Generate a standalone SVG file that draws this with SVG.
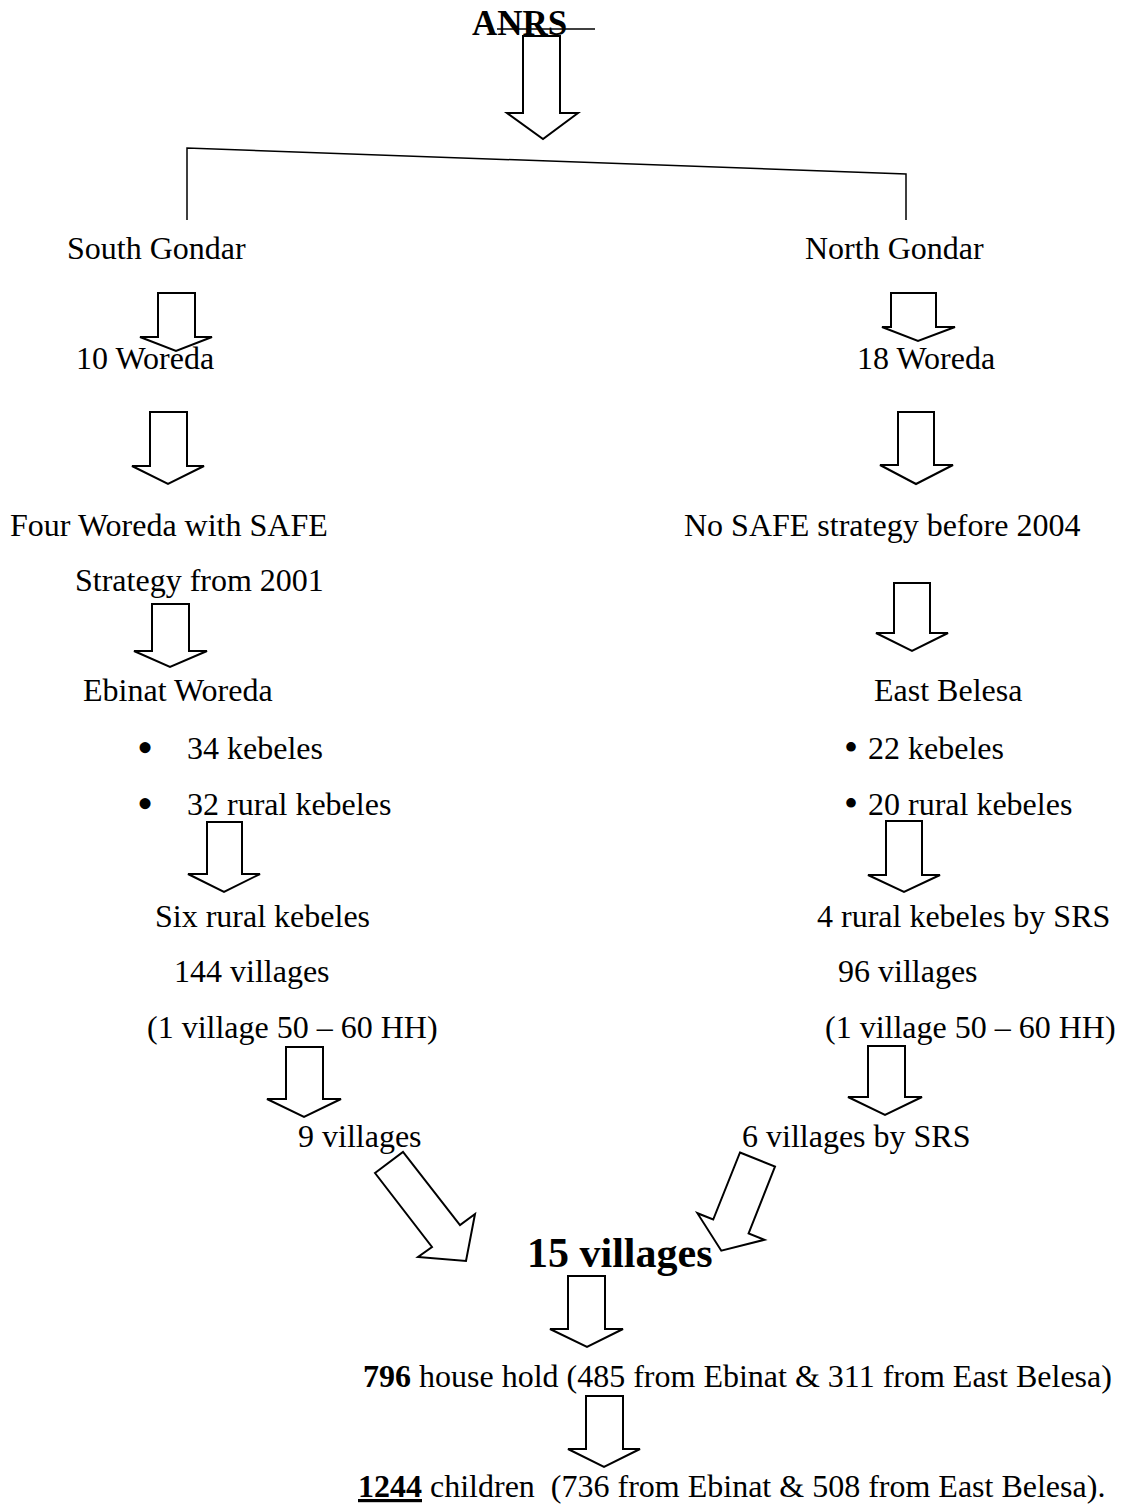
<svg xmlns="http://www.w3.org/2000/svg" width="1123" height="1504" viewBox="0 0 1123 1504">
<style>
text{font-family:"Liberation Serif","Times New Roman",serif;font-size:32px;fill:#000;white-space:pre}
.b{font-weight:bold}
.bl{font-size:46px}
.br{font-size:40px}
.arr{fill:#fff;stroke:#000;stroke-width:2;stroke-linejoin:miter}
.ln{fill:none;stroke:#000;stroke-width:1.5}
</style>
<rect width="1123" height="1504" fill="#fff"/>
<g id="connectors">
<polyline class="ln" points="187,220 187,148 906,174 906,220"/>
<polygon class="arr" points="523,36 560,36 560,113 578,113 543,139 507,113 523,113"/>
<polygon class="arr" points="158,293 195,293 195,337 212,337 176,351 140,337 158,337"/>
<polygon class="arr" points="891,293 936,293 936,327 955,327 918,341 882,327 891,327"/>
<polygon class="arr" points="150,412 187,412 187,466 204,466 168,484 132,466 150,466"/>
<polygon class="arr" points="898,412 934,412 934,465 953,465 916,484 880,465 898,465"/>
<polygon class="arr" points="152,604 189,604 189,651 207,651 170,667 134,651 152,651"/>
<polygon class="arr" points="894,583 930,583 930,633 948,633 912,651 876,633 894,633"/>
<polygon class="arr" points="207,822 242,822 242,874 260,874 224,892 188,874 207,874"/>
<polygon class="arr" points="886,821 922,821 922,875 940,875 904,892 868,875 886,875"/>
<polygon class="arr" points="286,1047 323,1047 323,1099 341,1099 304,1117 267,1099 286,1099"/>
<polygon class="arr" points="868,1046 905,1046 905,1097 922,1097 885,1115 848,1097 868,1097"/>
<polygon class="arr" points="375,1173 403,1152 460,1225 475,1214 466,1261 418,1257 432,1247"/>
<polygon class="arr" points="740,1152.5 775,1166.5 748.6,1233.5 764.4,1239.8 721.3,1250.7 697.4,1213.2 713.2,1219.5"/>
<polygon class="arr" points="568,1276 605,1276 605,1329 623,1329 587,1347 550,1329 568,1329"/>
<polygon class="arr" points="586,1396 623,1396 623,1449 640,1449 604,1467 568,1449 586,1449"/>
</g>
<g id="anrs">
<text class="b" x="472" y="35" style="font-size:35px">ANRS</text>
<line x1="497" y1="29" x2="595" y2="29" stroke="#000" stroke-width="1.5"/>
</g>
<g id="south-gondar"><text x="67" y="259">South Gondar</text></g>
<g id="north-gondar"><text x="805" y="259">North Gondar</text></g>
<g id="woreda-10"><text x="76" y="369">10 Woreda</text></g>
<g id="woreda-18"><text x="857" y="369">18 Woreda</text></g>
<g id="four-woreda">
<text x="10" y="536">Four Woreda with SAFE</text>
<text x="75" y="591">Strategy from 2001</text>
</g>
<g id="no-safe"><text x="684" y="536">No SAFE strategy before 2004</text></g>
<g id="ebinat">
<text x="83" y="701">Ebinat Woreda</text>
<text class="bl" x="137" y="763">•</text><text x="187" y="759">34 kebeles</text>
<text class="bl" x="137" y="819">•</text><text x="187" y="815">32 rural kebeles</text>
</g>
<g id="east-belesa">
<text x="874" y="701">East Belesa</text>
<text class="br" x="844" y="761">•</text><text x="868" y="759">22 kebeles</text>
<text class="br" x="844" y="817">•</text><text x="868" y="815">20 rural kebeles</text>
</g>
<g id="six-rural">
<text x="155" y="927">Six rural kebeles</text>
<text x="174" y="982">144 villages</text>
<text x="147" y="1038">(1 village 50 – 60 HH)</text>
</g>
<g id="four-rural">
<text x="817" y="927">4 rural kebeles by SRS</text>
<text x="838" y="982">96 villages</text>
<text x="825" y="1038">(1 village 50 – 60 HH)</text>
</g>
<g id="nine-villages"><text x="298" y="1147">9 villages</text></g>
<g id="six-villages"><text x="742" y="1147">6 villages by SRS</text></g>
<g id="fifteen-villages"><text class="b" x="527" y="1267" style="font-size:42px">15 villages</text></g>
<g id="households"><text x="363" y="1387"><tspan class="b">796</tspan> house hold (485 from Ebinat &amp; 311 from East Belesa)</text></g>
<g id="children"><text x="358" y="1497"><tspan class="b" text-decoration="underline">1244</tspan> children  (736 from Ebinat &amp; 508 from East Belesa).</text></g>
</svg>
